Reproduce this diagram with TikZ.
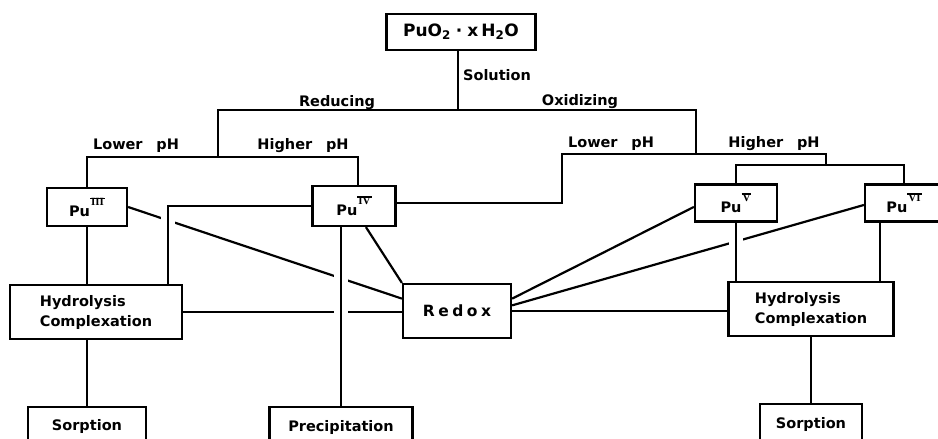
\documentclass[tikz,border=0pt]{standalone}
\usepackage{fontspec}
\setmainfont{DejaVu Sans}
\newfontfamily\numfont{Liberation Serif}
\usetikzlibrary{calc}
\pgfdeclarelayer{bg}
\pgfsetlayers{bg,main}
\newcommand{\rnum}[1]{\raisebox{10pt}{\setbox0=\hbox{\fontsize{11}{11}\selectfont\numfont\bfseries\kern1pt#1\kern1pt}\vbox{\hrule width\wd0 height 1.5pt\kern-0.4pt\box0\kern-1.1pt\hrule width\wd0 height 1.5pt}}}
\newcommand{\pulab}[1]{{\fontsize{14.5}{16}\selectfont Pu}\rnum{#1}}
\begin{document}
\begin{tikzpicture}[x=1pt,y=-1pt,line width=2.2pt,
  box/.style={draw,line width=2.2pt,fill=white,inner sep=0pt,font=\bfseries\fontsize{14.5}{20}\selectfont},
  lbl/.style={font=\bfseries\fontsize{14.5}{17}\selectfont,inner sep=0pt},
  conn/.style={line width=2.2pt},
  gap/.style={conn,preaction={draw=white,line width=14pt}}]
\useasboundingbox (0,0) rectangle (938,439);
% nodes
\node[box,minimum width=149pt,minimum height=36pt,line width=2.6pt] (top) at (461,32)
  {\fontsize{17}{20}\selectfont PuO\textsubscript{2}\hspace{5pt}·\hspace{5pt}x\hspace{3pt}H\textsubscript{2}O};
\node[box,minimum width=80pt,minimum height=38pt] (p3) at (87,207) {\pulab{III}\hspace{12pt}};
\node[box,minimum width=83pt,minimum height=40pt] (p4) at (354,206) {\pulab{IV}};
\node[box,minimum width=82pt,minimum height=37pt] (p5) at (736,203) {\pulab{V}};
\node[box,minimum width=78pt,minimum height=37pt] (p6) at (904,203) {\pulab{VI}};
\node[box,minimum width=172pt,minimum height=54pt,align=left] (hcL) at (96,312) {Hydrolysis\\Complexation};
\node[box,minimum width=108pt,minimum height=54pt,font=\bfseries\fontsize{15.5}{18}\selectfont] (rd) at (457,311) {R\kern3.5pt e\kern3.5pt d\kern3.5pt o\kern3.5pt x};
\node[box,minimum width=165pt,minimum height=54pt,align=left] (hcR) at (811,309) {Hydrolysis\\Complexation};
\node[box,minimum width=118pt,minimum height=38pt] (sL) at (87,426) {Sorption};
\node[box,minimum width=143pt,minimum height=40pt] (pr) at (341,427) {Precipitation};
\node[box,minimum width=102pt,minimum height=40pt] (sR) at (811,424) {Sorption};
% labels
\node[lbl,anchor=base west] (lsol) at (462,80) {Solution};
\node[lbl,anchor=base] (lred) at (337,106) {Reducing};
\node[lbl,anchor=base] (lox) at (580,105) {Oxidizing};
\node[lbl,anchor=base] (llp1) at (136,149) {Lower\hspace{0.95em}pH};
\node[lbl,anchor=base] (lhp1) at (303,149) {Higher\hspace{0.95em}pH};
\node[lbl,anchor=base] (llp2) at (611,147) {Lower\hspace{0.95em}pH};
\node[lbl,anchor=base] (lhp2) at (774,147) {Higher\hspace{0.95em}pH};
% junctions
\coordinate (sol) at (458,110);
\coordinate (rL) at (218,110);
\coordinate (rLb) at (218,157);
\coordinate (hx) at (358,157);
\coordinate (oR) at (696,110);
\coordinate (oRb) at (696,154);
\coordinate (oLeft) at (562,154);
\coordinate (oL2) at (562,203);
\coordinate (oRight) at (826,154);
\coordinate (ob) at (826,165);
\coordinate (p6b) at (880,222);
\begin{pgfonlayer}{bg}
\begin{scope}[line width=2.2pt]
% tree
\draw[conn] (top.south -| sol) -- (sol);
\draw[conn] (rLb) -- (rL) -- (oR) -- (oRb);
\draw[conn] (p3.north) |- (rLb) -- (hx) -- (hx |- p4.north);
\draw[conn] (oL2 -| p4.east) -- (oL2) -- (oLeft) -- (oRight) -- (ob);
\draw[conn] (p5.north) -- (p5.north |- ob) -- (p6.north |- ob) -- (p6.north);
% cross links
\draw[conn] (p3.east) -- ($(rd.north west)!0.28!(rd.south west)$);
\draw[conn] (hcL.east) -- (hcL.east -| rd.west);
\draw[conn] ($(p4.south west)!0.64!(p4.south east)$) -- (rd.north west);
\draw[conn] ($(rd.north east)!0.28!(rd.south east)$) -- ($(p5.north west)!0.6!(p5.south west)$);
\draw[conn] ($(rd.north east)!0.4!(rd.south east)$) -- ($(p6.north west)!0.55!(p6.south west)$);
\draw[conn] (rd.east) -- (rd.east -| hcR.west);
\draw[conn] (p3.south) -- (p3.south |- hcL.north);
\draw[conn] (sL.north |- hcL.south) -- (sL.north);
\draw[conn] (sR.north |- hcR.south) -- (sR.north);
\draw[conn] (p6b) -- (p6b |- hcR.north);
% lines passing over others
\draw[gap] (p4.west) -| ($(hcL.north west)!0.913!(hcL.north east)$);
\draw[gap] (pr.north |- p4.south) -- (pr.north);
\draw[gap] (p5.south) -- (p5.south |- hcR.north);
\end{scope}
\end{pgfonlayer}
\end{tikzpicture}
\end{document}
